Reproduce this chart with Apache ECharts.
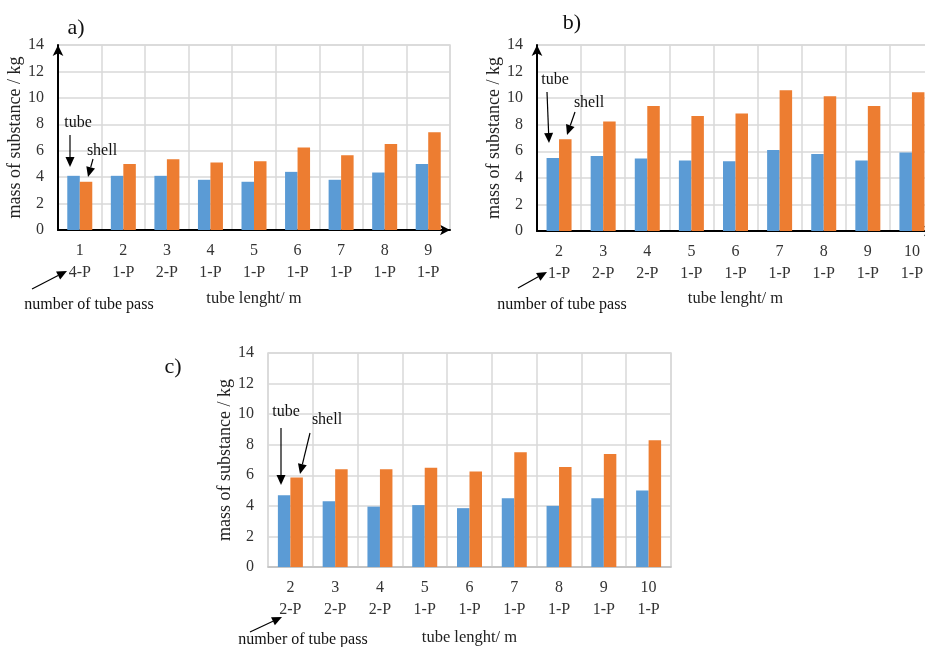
<!DOCTYPE html>
<html>
<head>
<meta charset="utf-8">
<script src="https://cdn.jsdelivr.net/npm/echarts@6/dist/echarts.min.js"></script>
<style>
  html, body { margin: 0; padding: 0; background: #fff; overflow: hidden; }
  #chart { width: 945px; height: 647px; }
</style>
</head>
<body>
<div id="chart"></div>
<script>
// ---- data ----
const lengthsA = ['1','2','3','4','5','6','7','8','9'];
const passesA  = ['4-P','1-P','2-P','1-P','1-P','1-P','1-P','1-P','1-P'];
const tubeA    = [4.1, 4.1, 4.1, 3.8, 3.65, 4.4, 3.8, 4.35, 5.0];
const shellA   = [3.65, 5.0, 5.35, 5.1, 5.2, 6.25, 5.65, 6.5, 7.4];

const lengthsB = ['2','3','4','5','6','7','8','9','10'];
const passesB  = ['1-P','2-P','2-P','1-P','1-P','1-P','1-P','1-P','1-P'];
const tubeB    = [5.5, 5.65, 5.45, 5.3, 5.25, 6.1, 5.8, 5.3, 5.9];
const shellB   = [6.9, 8.25, 9.4, 8.65, 8.85, 10.6, 10.15, 9.4, 10.45];

const lengthsC = ['2','3','4','5','6','7','8','9','10'];
const passesC  = ['2-P','2-P','2-P','1-P','1-P','1-P','1-P','1-P','1-P'];
const tubeC    = [4.7, 4.3, 3.95, 4.05, 3.85, 4.5, 4.0, 4.5, 5.0];
const shellC   = [5.85, 6.4, 6.4, 6.5, 6.25, 7.5, 6.55, 7.4, 8.3];

const yTicks = { min: 0, max: 14, interval: 2 };

// ---- styling ----
const FONT = '"Liberation Serif", "DejaVu Serif", serif';
const BLUE = '#5B9BD5', ORANGE = '#ED7D31';
const GRIDC = '#d9d9d9';

function cats(lengths, passes) {
  return lengths.map((l, i) => l + '\n' + passes[i]);
}

function xAxis(idx, lengths, passes, arrow, nameGap) {
  return {
    type: 'category', gridIndex: idx, data: cats(lengths, passes),
    name: 'tube lenght/ m', nameLocation: 'middle', nameGap: nameGap,
    nameTextStyle: { fontFamily: FONT, fontSize: 16.5, color: '#222' },
    axisLine: arrow
      ? { show: true, lineStyle: { color: '#000', width: 2 }, symbol: ['none', 'arrow'], symbolSize: [8, 10] }
      : { show: true, lineStyle: { color: '#bfbfbf', width: 1.5 } },
    axisTick: { show: false },
    axisLabel: { fontFamily: FONT, fontSize: 16, color: '#333', lineHeight: 22, margin: 10 },
    splitLine: { show: true, lineStyle: { color: GRIDC, width: 1.5 } }
  };
}

function yAxis(idx, arrow) {
  return {
    type: 'value', gridIndex: idx, min: yTicks.min, max: yTicks.max, interval: yTicks.interval,
    name: 'mass of substance / kg', nameLocation: 'middle', nameGap: 33,
    nameTextStyle: { fontFamily: FONT, fontSize: 18, color: '#222' },
    axisLine: arrow
      ? { show: true, lineStyle: { color: '#000', width: 2 }, symbol: ['none', 'arrow'], symbolSize: [8, 11] }
      : { show: false },
    axisTick: { show: false },
    axisLabel: { fontFamily: FONT, fontSize: 16, color: '#333', margin: 14 },
    splitLine: { show: true, lineStyle: { color: GRIDC, width: 1.5 } }
  };
}

function bars(idx, tube, shell) {
  return [
    { type: 'bar', name: 'tube', xAxisIndex: idx, yAxisIndex: idx, data: tube,
      barWidth: 12.5, barGap: '0%', itemStyle: { color: BLUE } },
    { type: 'bar', name: 'shell', xAxisIndex: idx, yAxisIndex: idx, data: shell,
      barWidth: 12.5, barGap: '0%', itemStyle: { color: ORANGE } }
  ];
}

// annotation helpers (pixel positioned text / arrows)
function txt(s, x, y, size) {
  return { type: 'text', z: 100, style: { text: s, x: x, y: y, fontFamily: FONT, fontSize: size || 16,
    fill: '#111', textAlign: 'center', textVerticalAlign: 'middle' } };
}
function arrowG(x1, y1, x2, y2) {
  const head = 10, hw = 4.5;
  const dx = x2 - x1, dy = y2 - y1, L = Math.hypot(dx, dy);
  const ux = dx / L, uy = dy / L;
  const bx = x2 - ux * head, by = y2 - uy * head;
  return [
    { type: 'line', z: 100, shape: { x1: x1, y1: y1, x2: bx, y2: by }, style: { stroke: '#000', lineWidth: 1.2 } },
    { type: 'polygon', z: 100, shape: { points: [[x2, y2], [bx - uy * hw, by + ux * hw], [bx + uy * hw, by - ux * hw]] },
      style: { fill: '#000' } }
  ];
}

const graphics = [
  txt('a)', 76, 28, 22), txt('b)', 572, 23, 22), txt('c)', 173, 367, 22),
  // panel a
  txt('tube', 78, 123), ...arrowG(70, 135, 70, 167),
  txt('shell', 102, 151), ...arrowG(93, 159, 88, 177),
  txt('number of tube pass', 89, 305), ...arrowG(32, 289, 67, 271),
  // panel b
  txt('tube', 555, 80), ...arrowG(547, 92, 549, 143),
  txt('shell', 589, 103), ...arrowG(575, 112, 567, 135),
  txt('number of tube pass', 562, 305), ...arrowG(518, 288, 547, 272),
  // panel c
  txt('tube', 286, 412), ...arrowG(281, 428, 281, 485),
  txt('shell', 327, 420), ...arrowG(310, 433, 300, 474),
  txt('number of tube pass', 303, 640), ...arrowG(250, 632, 282, 617)
];

const chart = echarts.init(document.getElementById('chart'), null, { renderer: 'canvas' });
chart.setOption({
  backgroundColor: '#fff',
  animation: false,
  grid: [
    { left: 58, top: 45, width: 392, height: 185, show: true, borderColor: GRIDC, borderWidth: 1.5 },
    { left: 537, top: 45, width: 397, height: 186, show: true, borderColor: GRIDC, borderWidth: 1.5 },
    { left: 268, top: 353, width: 403, height: 214, show: true, borderColor: GRIDC, borderWidth: 1.5 }
  ],
  xAxis: [
    xAxis(0, lengthsA, passesA, true, 60),
    xAxis(1, lengthsB, passesB, true, 59),
    xAxis(2, lengthsC, passesC, false, 62)
  ],
  yAxis: [yAxis(0, true), yAxis(1, true), yAxis(2, false)],
  series: [...bars(0, tubeA, shellA), ...bars(1, tubeB, shellB), ...bars(2, tubeC, shellC)],
  graphic: graphics
});
</script>
</body>
</html>
